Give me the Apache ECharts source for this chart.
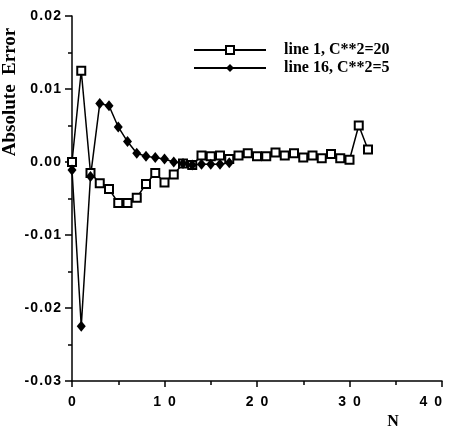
<!DOCTYPE html>
<html>
<head>
<meta charset="utf-8">
<script src="https://cdn.jsdelivr.net/npm/echarts@6/dist/echarts.min.js"></script>
<style>
  html, body { margin: 0; padding: 0; background: #fff; }
  #chart { width: 451px; height: 432px; }
</style>
</head>
<body>
<div id="chart"></div>
<script>
// line 1, C**2=20 (open squares), N = 0..32
const line1N = [0, 1, 2, 3, 4, 5, 6, 7, 8, 9, 10, 11, 12, 13, 14, 15, 16, 17, 18, 19, 20, 21, 22, 23, 24, 25, 26, 27, 28, 29, 30, 31, 32]
const line1Err = [0.0000, 0.0125, -0.0015, -0.0029, -0.0037, -0.0056, -0.0056, -0.0049, -0.0030, -0.0015, -0.0028, -0.0017, -0.0002, -0.0004, 0.0009, 0.0008, 0.0009, 0.0004, 0.0009, 0.0012, 0.0008, 0.0008, 0.0013, 0.0009, 0.0012, 0.0006, 0.0009, 0.0005, 0.0011, 0.0005, 0.0003, 0.0050, 0.0017]
// line 16, C**2=5 (filled diamonds), N = 0..17
const line16N = [0, 1, 2, 3, 4, 5, 6, 7, 8, 9, 10, 11, 12, 13, 14, 15, 16, 17]
const line16Err = [-0.0011, -0.0225, -0.0020, 0.0080, 0.0077, 0.0048, 0.0028, 0.0012, 0.0008, 0.0006, 0.0004, 0.0000, -0.0002, -0.0004, -0.0003, -0.0003, -0.0003, -0.0001]
const seriesNames = ['line 1, C**2=20', 'line 16, C**2=5']

const chart = echarts.init(document.getElementById('chart'))

const pairs = (xs, ys) => xs.map((x, i) => [x, ys[i]])
// the scanned tick labels are widely spaced, so pad between the characters
const spread = (s, gap) => s.split('').join(gap)
const tickFont = { color: '#000', fontFamily: 'Liberation Sans', fontSize: 14, fontWeight: 'bold' }
const titleFont = { fill: '#000', fontFamily: 'Liberation Serif', fontWeight: 'bold' }

let option = {
  animation: false,
  backgroundColor: '#fff',
  grid: { left: 72, right: 9, top: 16, bottom: 51, outerBoundsMode: 'none' },
  legend: {
    data: seriesNames,
    left: 188,
    top: 37,
    orient: 'vertical',
    itemWidth: 72,
    itemHeight: 10,
    itemGap: 2,
    textStyle: { color: '#000', fontFamily: 'Liberation Serif', fontSize: 16, fontWeight: 'bold', padding: [0, 0, 0, 13] }
  },
  xAxis: {
    type: 'value',
    min: 0,
    max: 40,
    interval: 10,
    axisLine: { onZero: false, lineStyle: { color: '#000', width: 1.5 } },
    axisTick: { length: 6, lineStyle: { color: '#000', width: 1.5 } },
    minorTick: { show: true, splitNumber: 2, length: 4, lineStyle: { color: '#000', width: 1.5 } },
    splitLine: { show: false },
    axisLabel: Object.assign({ margin: 14, alignMaxLabel: 'right', formatter: v => spread(String(v), '\u2002') }, tickFont)
  },
  yAxis: {
    type: 'value',
    min: -0.03,
    max: 0.02,
    interval: 0.01,
    axisLine: { show: true, onZero: false, lineStyle: { color: '#000', width: 1.5 } },
    axisTick: { show: true, length: 7, lineStyle: { color: '#000', width: 1.5 } },
    minorTick: { show: true, splitNumber: 2, length: 4, lineStyle: { color: '#000', width: 1.5 } },
    splitLine: { show: false },
    axisLabel: Object.assign({ margin: 11, formatter: v => spread(v.toFixed(2), '\u200A') }, tickFont)
  },
  series: [
    {
      name: seriesNames[0],
      type: 'line',
      data: pairs(line1N, line1Err),
      symbol: 'rect',
      symbolSize: 8,
      showAllSymbol: true,
      lineStyle: { color: '#000', width: 1.5 },
      itemStyle: { color: '#fff', borderColor: '#000', borderWidth: 2 }
    },
    {
      name: seriesNames[1],
      type: 'line',
      data: pairs(line16N, line16Err),
      symbol: 'diamond',
      symbolSize: [9, 11],
      showAllSymbol: true,
      lineStyle: { color: '#000', width: 1.5 },
      itemStyle: { color: '#000' }
    }
  ],
  graphic: [
    {
      type: 'text',
      x: 1,
      y: 92,
      rotation: Math.PI / 2,
      style: Object.assign({ text: 'Absolute  Error', fontSize: 19, textAlign: 'center', textVerticalAlign: 'top' }, titleFont)
    },
    {
      type: 'text',
      x: 393,
      y: 422,
      style: Object.assign({ text: 'N', fontSize: 16, textAlign: 'center', textVerticalAlign: 'middle' }, titleFont)
    }
  ]
}
chart.setOption(option)
</script>
</body>
</html>
